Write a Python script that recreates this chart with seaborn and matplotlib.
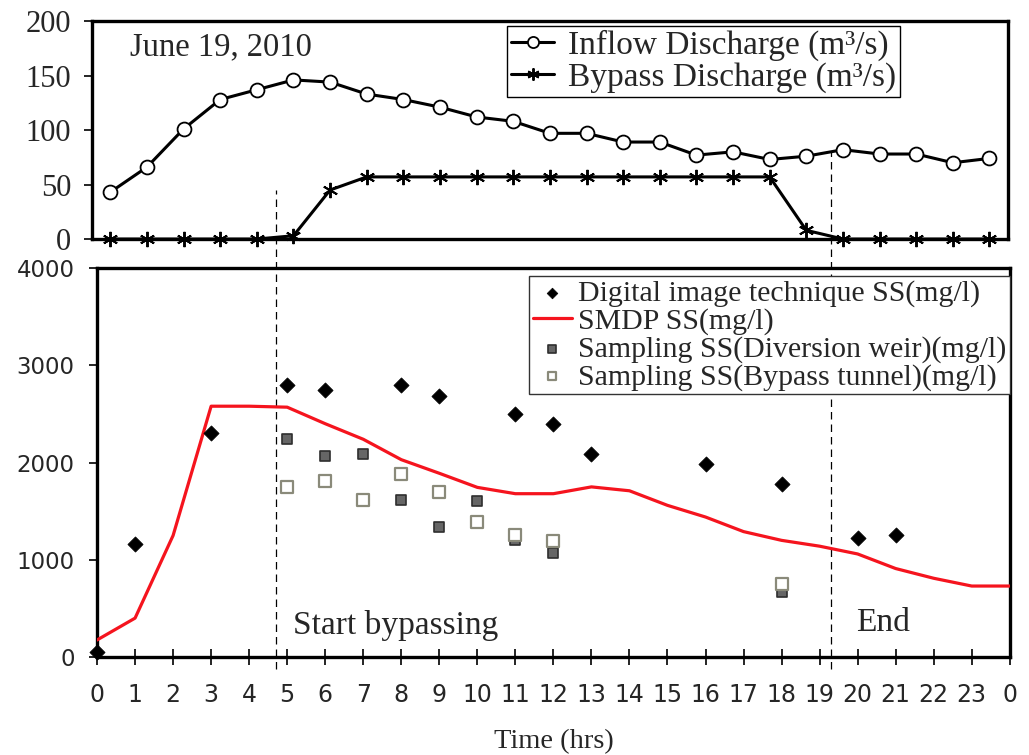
import matplotlib
matplotlib.use("Agg")
import matplotlib.pyplot as plt
import seaborn as sns

# top panel: discharge, one value per hour (0..24)
hours_top = list(range(25))
inflow = [43, 66, 101, 128, 137, 146, 144, 133, 128, 121, 112, 108, 97,
          97, 89, 89, 77, 80, 73, 76, 82, 78, 78, 70, 74]
bypass = [0, 0, 0, 0, 0, 3, 45, 57, 57, 57, 57, 57, 57,
          57, 57, 57, 57, 57, 57, 8, 0, 0, 0, 0, 0]

# bottom panel: suspended sediment
smdp_hours = list(range(25))
smdp_ss = [175, 400, 1250, 2580, 2580, 2570, 2400, 2240, 2030, 1890, 1745, 1680, 1680,
           1750, 1710, 1560, 1440, 1290, 1200, 1140, 1060, 910, 810, 730, 730]

dit_hours = [0, 1, 3, 5, 6, 8, 9, 11, 12, 13, 16, 18, 20, 21]
dit_ss = [50, 1160, 2300, 2800, 2750, 2800, 2680, 2500, 2400, 2090, 1990, 1780, 1220, 1250]

weir_hours = [5, 6, 7, 8, 9, 10, 11, 12, 18]
weir_ss = [2240, 2070, 2090, 1610, 1340, 1600, 1200, 1070, 670]

tunnel_hours = [5, 6, 7, 8, 9, 10, 11, 12, 18]
tunnel_ss = [1750, 1810, 1610, 1880, 1700, 1390, 1260, 1190, 750]

x_labels = [str(h) for h in range(24)] + ["0"]
start_hr, end_hr = 4.7, 19.3

sns.set_theme(style="white")
plt.rcParams["font.family"] = ["Liberation Serif", "DejaVu Serif"]

fig = plt.figure(figsize=(10.29, 7.55), dpi=100)
ax_top = fig.add_axes([0.0894, 0.6834, 0.890, 0.2887])
ax_bot = fig.add_axes([0.0943, 0.1298, 0.887, 0.515])
ax_top.patch.set_alpha(0)

# ---- top panel
sns.lineplot(x=hours_top, y=inflow, ax=ax_top, color="black", lw=2.2,
             marker="o", markersize=10, markerfacecolor="white",
             markeredgecolor="black", markeredgewidth=1.3,
             label="Inflow Discharge (m³/s)", clip_on=False, zorder=4)
sns.lineplot(x=hours_top, y=bypass, ax=ax_top, color="black", lw=2.2,
             label="Bypass Discharge (m³/s)", clip_on=False, zorder=4)
# asterisk markers for the bypass series
star_line = ax_top.lines[-1]
star_line.set_linestyle("-")
star_line.set_marker((6, 2, 0))
star_line.set_markersize(11)
star_line.set_markeredgewidth(1.4)
star_line.set_markeredgecolor("black")

ax_top.set_xlim(-0.5, 24.5)
ax_top.set_ylim(0, 200)
ax_top.set_yticks([0, 50, 100, 150, 200])
ax_top.set_xticks([])
ax_top.tick_params(axis="y", direction="out", length=6, width=1.2,
                   pad=9, labelsize=22, left=True, color="black")
ax_top.text(0.0415, 0.88, "June 19, 2010", transform=ax_top.transAxes,
            fontsize=23.5, ha="left", va="center")
leg_top = ax_top.legend(loc="upper left", bbox_to_anchor=(0.453, 0.977), borderaxespad=0,
                        fontsize=24, frameon=True, fancybox=False, edgecolor="black",
                        framealpha=1, handlelength=1.3, handletextpad=0.4,
                        labelspacing=0.02, borderpad=0.12, markerscale=0.8)
leg_top.get_frame().set_linewidth(1.0)

# ---- bottom panel
sns.lineplot(x=smdp_hours, y=smdp_ss, ax=ax_bot, color="#f5141e", lw=2.3,
             label="SMDP SS(mg/l)", zorder=3)
sns.scatterplot(x=dit_hours, y=dit_ss, ax=ax_bot, marker="D", s=60,
                color="black", edgecolor="black", linewidth=0.5,
                label="Digital image technique SS(mg/l)", zorder=4, clip_on=False)
sns.scatterplot(x=weir_hours, y=weir_ss, ax=ax_bot, marker="s", s=55,
                color="#666666", edgecolor="#2e2e2e", linewidth=1.2,
                label="Sampling SS(Diversion weir)(mg/l)", zorder=4)
sns.scatterplot(x=tunnel_hours, y=tunnel_ss, ax=ax_bot, marker="s", s=70,
                color="white", edgecolor="#8a8a7a", linewidth=1.6,
                label="Sampling SS(Bypass tunnel)(mg/l)", zorder=4)
ax_bot.set_xlim(0, 24)
ax_bot.set_ylim(0, 4000)
ax_bot.set_xticks(range(25))
ax_bot.set_xticklabels(x_labels, fontfamily="DejaVu Sans")
ax_bot.set_yticks([0, 1000, 2000, 3000, 4000])
ax_bot.set_yticklabels(["0", "1000", "2000", "3000", "4000"], fontfamily="DejaVu Sans")
ax_bot.tick_params(axis="x", direction="inout", length=11, width=1.2,
                   pad=13, labelsize=17, bottom=True, color="black")
ax_bot.tick_params(axis="y", direction="out", length=6, width=1.2,
                   pad=10, labelsize=16.5, left=True, color="black")
ax_bot.set_xlabel("Time (hrs)", fontsize=20.5, labelpad=16)
ax_bot.set_ylabel("")

ax_bot.text(0.2147, 0.082, "Start bypassing", transform=ax_bot.transAxes,
            fontsize=24, ha="left", va="center")
ax_bot.text(0.832, 0.087, "End", transform=ax_bot.transAxes,
            fontsize=24, ha="left", va="center")

# dashed event markers running through both panels
ax_bot.axvline(start_hr, ymin=-0.03, ymax=1.2, color="black", lw=0.9,
               ls=(0, (6, 4)), clip_on=False, zorder=1)
ax_bot.axvline(end_hr, ymin=-0.03, ymax=1.3, color="black", lw=0.9,
               ls=(0, (6, 4)), clip_on=False, zorder=1)

handles, labels = ax_bot.get_legend_handles_labels()
order = [labels.index(l) for l in ["Digital image technique SS(mg/l)", "SMDP SS(mg/l)",
                                  "Sampling SS(Diversion weir)(mg/l)",
                                  "Sampling SS(Bypass tunnel)(mg/l)"]]
leg = ax_bot.legend([handles[i] for i in order], [labels[i] for i in order],
                    loc="upper right", bbox_to_anchor=(1.0, 0.979), borderaxespad=0,
                    fontsize=21.5, frameon=True, fancybox=False, edgecolor="#333333",
                    framealpha=1, handlelength=1.3, handletextpad=0.2,
                    labelspacing=0.02, borderpad=0.12, markerscale=0.7)
leg.get_frame().set_linewidth(1.0)

for ax in (ax_top, ax_bot):
    for sp in ax.spines.values():
        sp.set_visible(True)
        sp.set_color("black")
        sp.set_linewidth(2.4)

fig.savefig("out.png", dpi=100, facecolor="white")
